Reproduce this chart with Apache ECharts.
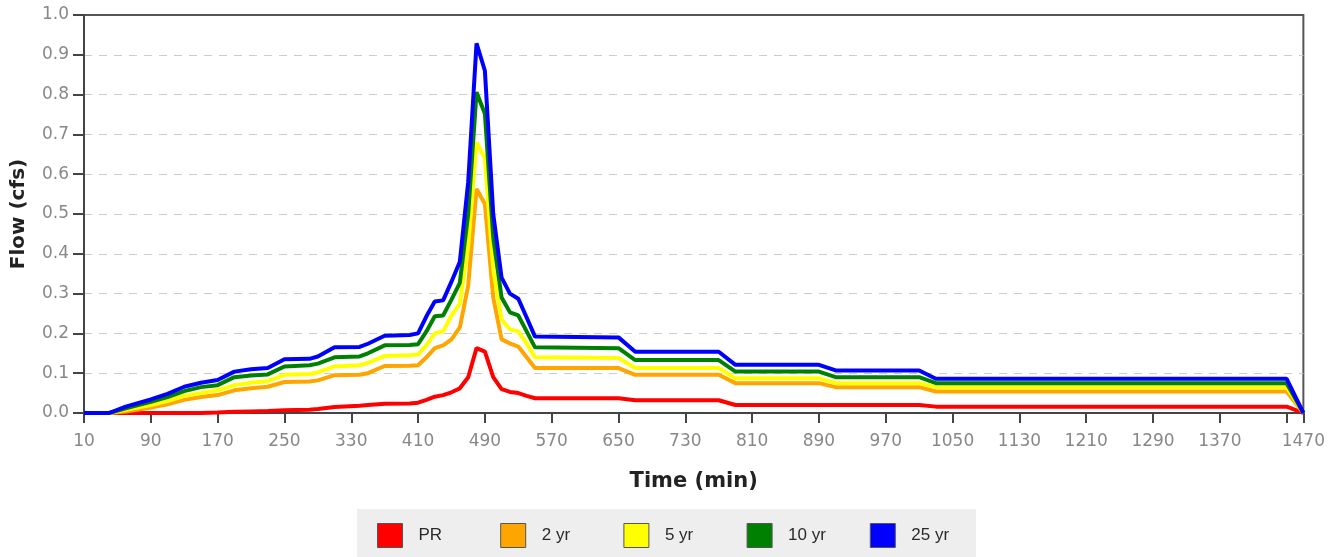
<!DOCTYPE html>
<html><head><meta charset="utf-8">
<script src="https://cdn.jsdelivr.net/npm/echarts@6/dist/echarts.min.js"></script>
<style>html,body{margin:0;padding:0;background:#fff}#c{width:1328px;height:557px}</style>
</head><body><div id="c"></div>
<script>
const time = [10, 40, 60, 90, 110, 130, 150, 170, 190, 210, 230, 250, 280, 290, 310, 340, 350, 370, 400, 410, 420, 430, 440, 450, 460, 470, 480, 490, 500, 510, 520, 530, 540, 550, 650, 670, 770, 790, 890, 910, 1010, 1030, 1450, 1470];
const pr   = [0, 0, 0, 0, 0, 0, 0, 0.001, 0.003, 0.004, 0.005, 0.007, 0.008, 0.010, 0.015, 0.018, 0.020, 0.023, 0.024, 0.026, 0.033, 0.041, 0.045, 0.052, 0.062, 0.090, 0.163, 0.154, 0.090, 0.060, 0.053, 0.050, 0.043, 0.037, 0.037, 0.032, 0.032, 0.020, 0.020, 0.020, 0.020, 0.016, 0.016, 0];
const yr2  = [0, 0, 0.004, 0.014, 0.022, 0.033, 0.040, 0.045, 0.057, 0.062, 0.066, 0.078, 0.079, 0.082, 0.095, 0.096, 0.100, 0.118, 0.119, 0.120, 0.140, 0.163, 0.170, 0.185, 0.215, 0.320, 0.563, 0.525, 0.290, 0.185, 0.175, 0.167, 0.140, 0.113, 0.113, 0.096, 0.096, 0.075, 0.075, 0.065, 0.065, 0.054, 0.054, 0];
const yr5  = [0, 0, 0.008, 0.020, 0.030, 0.043, 0.050, 0.057, 0.070, 0.076, 0.080, 0.096, 0.098, 0.102, 0.117, 0.120, 0.126, 0.143, 0.145, 0.147, 0.170, 0.200, 0.205, 0.245, 0.275, 0.420, 0.680, 0.640, 0.360, 0.235, 0.210, 0.205, 0.175, 0.140, 0.138, 0.113, 0.113, 0.087, 0.087, 0.075, 0.075, 0.065, 0.065, 0];
const yr10 = [0, 0, 0.012, 0.028, 0.040, 0.055, 0.065, 0.070, 0.090, 0.094, 0.097, 0.117, 0.120, 0.124, 0.140, 0.142, 0.150, 0.170, 0.171, 0.173, 0.205, 0.243, 0.245, 0.285, 0.327, 0.500, 0.806, 0.752, 0.440, 0.290, 0.253, 0.245, 0.205, 0.165, 0.163, 0.133, 0.133, 0.104, 0.104, 0.090, 0.090, 0.075, 0.075, 0];
const yr25 = [0, 0, 0.016, 0.034, 0.048, 0.066, 0.076, 0.083, 0.104, 0.110, 0.113, 0.135, 0.136, 0.142, 0.165, 0.166, 0.174, 0.194, 0.196, 0.200, 0.243, 0.280, 0.283, 0.330, 0.380, 0.580, 0.929, 0.860, 0.500, 0.340, 0.300, 0.287, 0.240, 0.192, 0.190, 0.154, 0.154, 0.121, 0.121, 0.107, 0.107, 0.086, 0.086, 0];
const seriesNames = ['PR', '2 yr', '5 yr', '10 yr', '25 yr'];
const seriesColors = ['#ff0000', '#ffa500', '#ffff00', '#008000', '#0000ff'];
const xTickValues = [10, 90, 170, 250, 330, 410, 490, 570, 650, 730, 810, 890, 970, 1050, 1130, 1210, 1290, 1370, 1450, 1470];
const xLabelValues = [10, 90, 170, 250, 330, 410, 490, 570, 650, 730, 810, 890, 970, 1050, 1130, 1210, 1290, 1370, 1470];

const allValues = [pr, yr2, yr5, yr10, yr25];
const chart = echarts.init(document.getElementById('c'), null, {renderer: 'canvas'});
const FONT = 'DejaVu Sans';
const LFONT = 'Liberation Sans';
const gridColors = [];
for (let k = 0; k < 10; k++) gridColors.push('#cccccc');
gridColors.push('rgba(0,0,0,0)');

const legends = seriesNames.map((n, i) => ({
  data: [n],
  left: 377 + i * 123.2, top: 523,
  orient: 'horizontal',
  icon: 'rect', itemWidth: 25, itemHeight: 24,
  padding: 0,
  selectedMode: false,
  itemStyle: {borderColor: '#555', borderWidth: 1},
  textStyle: {fontFamily: LFONT, fontSize: 17, color: '#2a2a2a', padding: [0, 0, 0, 11]}
}));

chart.setOption({
  animation: false,
  backgroundColor: '#ffffff',
  graphic: [{
    type: 'rect', left: 357, top: 509, z: -10,
    shape: {width: 619, height: 48},
    style: {fill: '#eeeeee'}
  }],
  grid: {left: 84, right: 24, top: 15, bottom: 144, show: true, borderColor: '#555', borderWidth: 2, backgroundColor: 'transparent'},
  legend: legends,
  xAxis: {
    type: 'value', min: 10, max: 1470,
    name: 'Time (min)', nameLocation: 'middle', nameGap: 58,
    nameTextStyle: {fontFamily: FONT, fontSize: 21, fontWeight: 'bold', color: '#222'},
    axisLine: {show: true, lineStyle: {color: '#444', width: 2}},
    axisTick: {show: true, length: 10, lineStyle: {color: '#444', width: 2}, customValues: xTickValues},
    axisLabel: {fontFamily: FONT, fontSize: 17, color: '#888', margin: 20, customValues: xLabelValues, formatter: v => String(v)},
    splitLine: {show: false}
  },
  yAxis: {
    type: 'value', min: 0, max: 1, interval: 0.1,
    name: 'Flow (cfs)', nameLocation: 'middle', nameGap: 55, nameRotate: 90,
    nameTextStyle: {fontFamily: FONT, fontSize: 20, fontWeight: 'bold', color: '#222'},
    axisLine: {show: true, lineStyle: {color: '#444', width: 2}},
    axisTick: {show: true, length: 11, lineStyle: {color: '#444', width: 2}},
    axisLabel: {fontFamily: FONT, fontSize: 17, color: '#888', margin: 15, formatter: v => v.toFixed(1)},
    splitLine: {show: true, lineStyle: {color: gridColors, type: [8, 7], width: 1}}
  },
  series: seriesNames.map((n, i) => ({
    name: n, type: 'line', symbol: 'none', showSymbol: false,
    data: time.map((t, j) => [t, allValues[i][j]]),
    lineStyle: {color: seriesColors[i], width: 4},
    itemStyle: {color: seriesColors[i]}
  }))
});
</script></body></html>
